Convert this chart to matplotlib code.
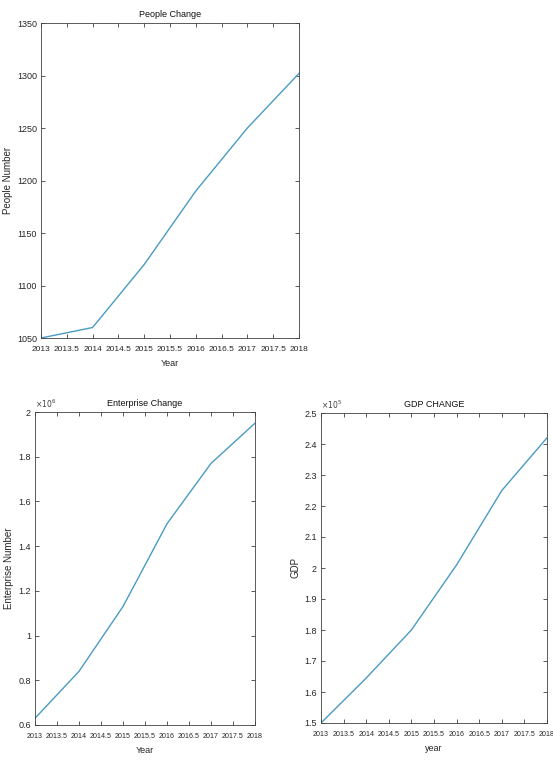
import matplotlib
matplotlib.use("Agg")
import matplotlib.pyplot as plt
import numpy as np

# data
years = [2013, 2014, 2015, 2016, 2017, 2018]
people = [1050, 1060, 1120, 1190, 1250, 1302]
enterprise = [0.63, 0.84, 1.13, 1.50, 1.77, 1.95]   # x10^6
gdp = [1.50, 1.645, 1.80, 2.01, 2.25, 2.42]          # x10^5

xticks = np.arange(2013, 2018.01, 0.5)
xlabels = ["2013", "2013.5", "2014", "2014.5", "2015", "2015.5",
           "2016", "2016.5", "2017", "2017.5", "2018"]

LINE = "#4a9bc4"
FONT = ["Liberation Sans", "DejaVu Sans"]

W, H = 553, 762
fig = plt.figure(figsize=(W / 100, H / 100), dpi=100)


def box(l, t, r, b):
    return [l / W, 1 - b / H, (r - l) / W, (b - t) / H]


def style(ax, title, xlab, ylab, yticks, ylim, ylabels, xfs, yfs):
    ax.set_xlim(2013, 2018)
    ax.set_ylim(*ylim)
    ax.set_xticks(xticks)
    ax.set_xticklabels(xlabels, family=FONT, fontsize=xfs)
    ax.set_yticks(yticks)
    ax.set_yticklabels(ylabels, family=FONT, fontsize=yfs)
    ax.tick_params(direction="in", top=True, right=True, length=3,
                   width=0.6, color="#404040", labelcolor="#262626")
    ax.tick_params(axis="x", pad=6)
    ax.tick_params(axis="y", pad=3)
    for s in ax.spines.values():
        s.set_color("#404040")
        s.set_linewidth(0.6)
    ax.set_title(title, family=FONT, fontsize=6.5, color="#111111", pad=4)
    ax.set_xlabel(xlab, family=FONT, fontsize=6.5, color="#262626", labelpad=4)
    ax.set_ylabel(ylab, family=FONT, fontsize=7, color="#262626", labelpad=3)


# top: people
ax1 = fig.add_axes(box(41, 23, 299, 338))
ax1.plot(years, people, color=LINE, lw=1.0)
yt = np.arange(1050, 1351, 50)
style(ax1, "People Change", "Year", "People Number", yt, (1050, 1350),
      [str(v) for v in yt], 6.0, 6.5)

# bottom left: enterprise
ax2 = fig.add_axes(box(35, 412, 255, 725))
ax2.plot(years, enterprise, color=LINE, lw=1.0)
yt = np.arange(0.6, 2.01, 0.2)
style(ax2, "Enterprise Change", "Year", "Enterprise Number", yt, (0.6, 2.0),
      ["0.6", "0.8", "1", "1.2", "1.4", "1.6", "1.8", "2"], 5.1, 6.5)
ax2.text(0.0, 1.005, r"$\times10^6$", transform=ax2.transAxes, fontsize=5.5,
         color="#404040", ha="left", va="bottom")

# bottom right: gdp
ax3 = fig.add_axes(box(321, 413, 547, 723))
ax3.plot(years, gdp, color=LINE, lw=1.0)
yt = np.arange(1.5, 2.51, 0.1)
style(ax3, "GDP CHANGE", "year", "GDP", yt, (1.5, 2.5),
      ["1.5", "1.6", "1.7", "1.8", "1.9", "2", "2.1", "2.2", "2.3", "2.4", "2.5"],
      5.1, 6.5)
ax3.text(0.0, 1.005, r"$\times10^5$", transform=ax3.transAxes, fontsize=5.5,
         color="#404040", ha="left", va="bottom")

fig.savefig("out.png", dpi=100)
